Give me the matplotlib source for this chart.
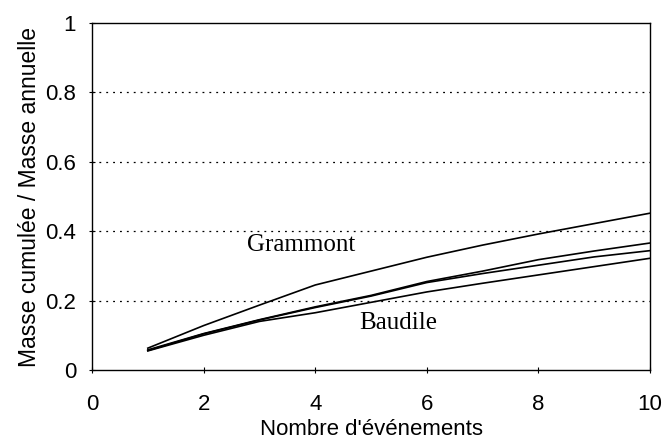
import matplotlib
matplotlib.use("Agg")
import matplotlib.pyplot as plt

x = [1, 2, 3, 4, 5, 6, 7, 8, 9, 10]
grammont = [0.063, 0.128, 0.187, 0.245, 0.285, 0.325, 0.36, 0.392, 0.422, 0.452]
serie_b = [0.058, 0.105, 0.145, 0.182, 0.215, 0.255, 0.285, 0.318, 0.343, 0.366]
serie_c = [0.056, 0.104, 0.144, 0.180, 0.213, 0.252, 0.278, 0.302, 0.326, 0.344]
baudile = [0.055, 0.100, 0.140, 0.165, 0.195, 0.225, 0.250, 0.274, 0.298, 0.322]

xticks = [0, 2, 4, 6, 8, 10]
yticks = [0, 0.2, 0.4, 0.6, 0.8, 1]
ytick_labels = ["0", "0.2", "0.4", "0.6", "0.8", "1"]

plt.rcParams['font.family'] = ['Liberation Sans', 'DejaVu Sans']

fig = plt.figure(figsize=(6.64, 4.43), dpi=100)
ax = fig.add_axes([0.1386, 0.1648, 0.8404, 0.7832])

for yv in [0.2, 0.4, 0.6, 0.8]:
    ax.axhline(yv, color='black', linestyle=(0, (1.5, 4)), linewidth=0.9, zorder=1)

for s in [grammont, serie_b, serie_c, baudile]:
    ax.plot(x, s, color='black', linewidth=1.2, zorder=3)

ax.set_xlim(0, 10)
ax.set_ylim(0, 1)
ax.set_xticks(xticks)
ax.set_yticks(yticks)
ax.set_yticklabels(ytick_labels)
ax.tick_params(axis='both', direction='inout', length=5, width=0.8, labelsize=16, colors='black')
ax.tick_params(axis='x', pad=15)
ax.tick_params(axis='y', pad=9)
for sp in ax.spines.values():
    sp.set_linewidth(1.0)

ax.set_xlabel("Nombre d'événements", fontsize=16, labelpad=3)
ax.set_ylabel("Masse cumulée / Masse annuelle", fontsize=16.5, labelpad=3)

ax.text(3.75, 0.359, "Grammont", family=['Liberation Serif', 'DejaVu Serif'], fontsize=18, ha='center', va='center')
ax.text(5.48, 0.135, "Baudile", family=['Liberation Serif', 'DejaVu Serif'], fontsize=18, ha='center', va='center')

fig.savefig("out.png", dpi=100)
